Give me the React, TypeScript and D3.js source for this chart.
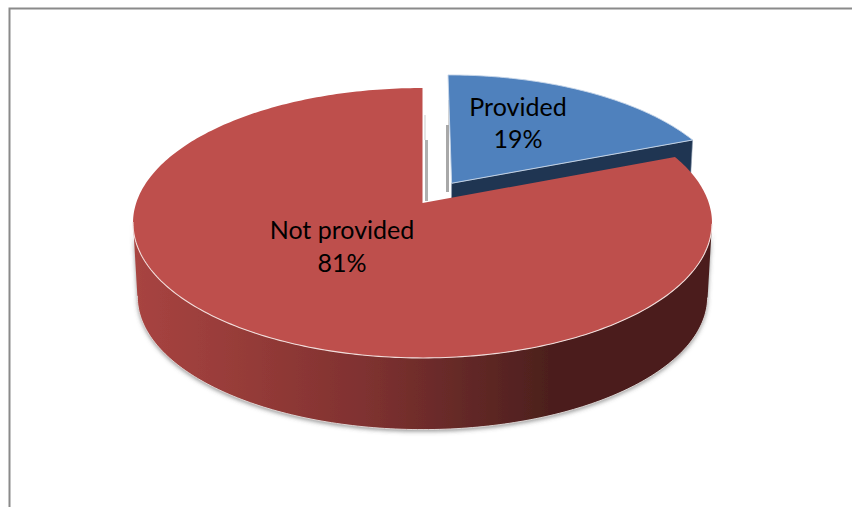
import React from "react";
import * as d3 from "d3";

// Share of respondents in each answer group
const categories = ["Provided", "Not provided"];
const shares = [19, 81];

const WIDTH = 852;
const HEIGHT = 507;

// Perspective projection of the unit disk onto the screen
const PERSPECTIVE = 0.148;
const CENTER_X = 422.5;
const TOP_Y = 203;
const HALF_W = 286.3;
const HALF_H = 132;
const DEPTH = 74;
const BOTTOM_SCALE = 0.985;
const EXPLODE = 0.185;
const BLUE_RADIUS = 0.98;

type Pt = [number, number];

function project(u: number, v: number, drop = 0, scale = 1): Pt {
  const w = 1 + PERSPECTIVE * v;
  return [CENTER_X + (scale * HALF_W * u) / w, TOP_Y + drop - (scale * HALF_H * v) / w];
}

const pieLayout = d3
  .pie<number>()
  .sort(null)
  .value((d) => d)
  .startAngle(0)
  .endAngle(2 * Math.PI);

const arcs = pieLayout(shares);
const toPath = d3.line<Pt>();

function arcPoints(a0: number, a1: number, off: Pt, drop = 0, scale = 1, radius = 1): Pt[] {
  const n = Math.max(2, Math.ceil(Math.abs(a1 - a0) * 60));
  const angle = d3.scaleLinear().domain([0, n]).range([a0, a1]);
  return d3.range(n + 1).map((i) => {
    const a = angle(i);
    return project(radius * Math.sin(a) + off[0], radius * Math.cos(a) + off[1], drop, scale);
  });
}

// Front part of an arc: the stretch between its rightmost and leftmost points
function frontOf(points: Pt[]): Pt[] {
  const right = d3.greatestIndex(points, (p) => p[0]);
  const left = d3.leastIndex(points, (p) => p[0]);
  return points.slice(right, (left as number) + 1);
}

const blue = arcs[0];
const red = arcs[1];
const bisector = (blue.startAngle + blue.endAngle) / 2;
const blueOff: Pt = [EXPLODE * Math.sin(bisector), EXPLODE * Math.cos(bisector)];
const noOff: Pt = [0, 0];

const redApex = project(0, 0);
const blueApex = project(blueOff[0], blueOff[1]);
const redTopArc = arcPoints(red.startAngle, red.endAngle, noOff);
const redFrontTop = frontOf(redTopArc);
const redFrontBottom = frontOf(arcPoints(red.startAngle, red.endAngle, noOff, DEPTH, BOTTOM_SCALE));
const blueTopArc = arcPoints(blue.startAngle, blue.endAngle, blueOff, 0, 1, BLUE_RADIUS);
const blueCorner = blueTopArc[blueTopArc.length - 1];
const blueApexLow = project(blueOff[0], blueOff[1], DEPTH, BOTTOM_SCALE);
const blueCornerLow = project(
  BLUE_RADIUS * Math.sin(blue.endAngle) + blueOff[0],
  BLUE_RADIUS * Math.cos(blue.endAngle) + blueOff[1],
  DEPTH,
  BOTTOM_SCALE
);

export default function App() {
  return (
    <svg
      width={WIDTH}
      height={HEIGHT}
      viewBox={`0 0 ${WIDTH} ${HEIGHT}`}
      style={{ position: "absolute", left: 0, top: 0, background: "#fff" }}
      fontFamily="Lato, 'Open Sans', sans-serif"
    >
      <defs>
        <linearGradient id="redWall" gradientUnits="userSpaceOnUse" x1={133} x2={712} y1={0} y2={0}>
          <stop offset="0" stopColor="#a84441" />
          <stop offset="0.2" stopColor="#953b38" />
          <stop offset="0.4" stopColor="#7f3130" />
          <stop offset="0.55" stopColor="#672a28" />
          <stop offset="0.72" stopColor="#4c1f1d" />
          <stop offset="1" stopColor="#4c1f1d" />
        </linearGradient>
        <filter id="wallShadow" x="-5%" y="-5%" width="110%" height="115%">
          <feDropShadow dx={0} dy={2} stdDeviation={2} floodColor="#555" floodOpacity={0.6} />
        </filter>
        <filter id="gapSoft" x="-300%" y="-10%" width="700%" height="120%">
          <feGaussianBlur stdDeviation={0.7} />
        </filter>
      </defs>

      {/* chart frame, open towards the right and bottom of the page */}
      <path d={`M9.5 ${HEIGHT} V8.5 H${WIDTH}`} fill="none" stroke="#8a8a8a" strokeWidth={2} />

      {/* soft shading in the gap left by the pulled-out slice */}
      <g filter="url(#gapSoft)" fill="none">
        <line x1={426.5} x2={426.5} y1={140} y2={201} stroke="#b0b0b0" strokeWidth={3} />
        <line x1={425} x2={425} y1={115} y2={140} stroke="#dddddd" strokeWidth={1.5} />
        <line x1={447.5} x2={447.5} y1={125} y2={192} stroke="#a8a8a8" strokeWidth={3} />
        <line x1={449} x2={449} y1={100} y2={125} stroke="#c4c4c4" strokeWidth={1.5} />
      </g>

      {/* cut wall of the pulled-out slice */}
      <path
        d={`${toPath([blueApex, blueCorner, blueCornerLow, blueApexLow])}Z`}
        fill="#1f3552"
        stroke="#8d9cb0"
        strokeWidth={0.6}
      />

      {/* outer wall of the large slice */}
      <path
        d={`${toPath([...redFrontTop, ...redFrontBottom.slice().reverse()])}Z`}
        fill="url(#redWall)"
        filter="url(#wallShadow)"
      />
      <path d={toPath(redFrontBottom)!} fill="none" stroke="#e4dfde" strokeWidth={0.9} />

      {/* top faces */}
      <path d={`${toPath([redApex, ...redTopArc])}Z`} fill="#be4f4c" />
      <path d={toPath(redFrontTop)!} fill="none" stroke="#f1dcda" strokeWidth={1.1} />
      <path
        d={`${toPath([blueApex, ...blueTopArc])}Z`}
        fill="#4f81bd"
        stroke="#c9d8ea"
        strokeWidth={0.9}
        strokeLinejoin="round"
      />

      {/* slice labels */}
      <g fontSize={25} fill="#000" textAnchor="middle">
        <text x={518} y={116}>{categories[0]}</text>
        <text x={518} y={148}>{`${shares[0]}%`}</text>
        <text x={342} y={239}>{categories[1]}</text>
        <text x={342} y={272}>{`${shares[1]}%`}</text>
      </g>
    </svg>
  );
}
